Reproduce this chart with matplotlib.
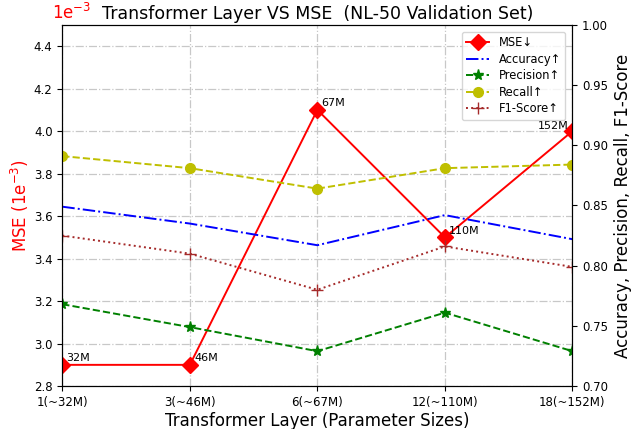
import numpy as np
import matplotlib.pyplot as plt

# x categories
layers = ['1(~32M)', '3(~46M)', '6(~67M)', '12(~110M)', '18(~152M)']
sizes = ['32M', '46M', '67M', '110M', '152M']

# MSE in units of 1e-3
mse = [2.9, 2.9, 4.1, 3.5, 4.0]

# right-axis metrics
accuracy = [0.849, 0.835, 0.817, 0.842, 0.822]
precision = [0.768, 0.749, 0.729, 0.761, 0.729]
recall = [0.891, 0.881, 0.864, 0.881, 0.884]
f1 = [0.825, 0.810, 0.780, 0.816, 0.799]

x = np.arange(len(layers))

fig, ax1 = plt.subplots(figsize=(6.36, 4.29), dpi=100)
ax2 = ax1.twinx()

l1, = ax1.plot(x, mse, color='red', marker='D', markersize=8.5, lw=1.4, label='MSE↓')
for xi, yi, s in zip(x, mse, sizes):
    if s == '152M':
        ax1.annotate(s, (xi, yi), xytext=(-3, 0), textcoords='offset points',
                     ha='right', va='bottom', fontsize=8)
    else:
        ax1.annotate(s, (xi, yi), xytext=(3, 1), textcoords='offset points',
                     ha='left', va='bottom', fontsize=8)

l2, = ax2.plot(x, accuracy, color='blue', ls='-.', lw=1.4, label='Accuracy↑')
l3, = ax2.plot(x, precision, color='green', ls='--', marker='*', markersize=8,
               lw=1.4, label='Precision↑')
l4, = ax2.plot(x, recall, color='y', ls='--', marker='o', markersize=7,
               lw=1.4, label='Recall↑')
l5, = ax2.plot(x, f1, color='brown', ls=':', marker='+', markersize=9,
               lw=1.4, label='F1-Score↑')

ax1.set_xlim(0, 4)
ax1.set_ylim(2.8, 4.5)
ax2.set_ylim(0.70, 1.00)
ax1.set_xticks(x)
ax1.set_xticklabels(layers, fontsize=8.5)
ax1.set_yticks(np.arange(2.8, 4.41, 0.2))
ax1.set_yticklabels([f'{v:.1f}' for v in np.arange(2.8, 4.41, 0.2)], fontsize=8.5)
ax2.set_yticks(np.arange(0.70, 1.001, 0.05))
ax2.set_yticklabels([f'{v:.2f}' for v in np.arange(0.70, 1.001, 0.05)], fontsize=8.5)

ax1.grid(True, ls='-.', color='#c8c8c8', lw=0.9)
ax1.set_xlabel('Transformer Layer (Parameter Sizes)', fontsize=12, labelpad=2)
ax1.set_ylabel('MSE (1e$^{-3}$)', fontsize=12, color='red', labelpad=2)
ax2.set_ylabel('Accuracy, Precision, Recall, F1-Score', fontsize=12, labelpad=4)

ax1.text(-0.02, 1.005, '1e$^{-3}$', transform=ax1.transAxes, color='red',
         fontsize=12, ha='left', va='bottom')
ax1.set_title('Transformer Layer VS MSE  (NL-50 Validation Set)', fontsize=12.5, pad=4)

ax2.legend(handles=[l1, l2, l3, l4, l5], loc='upper right', fontsize=8.3,
           labelspacing=0.3, borderaxespad=0.6, framealpha=0.8)

fig.subplots_adjust(left=0.098, right=0.9, top=0.942, bottom=0.1)
fig.savefig('out.png', dpi=100)
